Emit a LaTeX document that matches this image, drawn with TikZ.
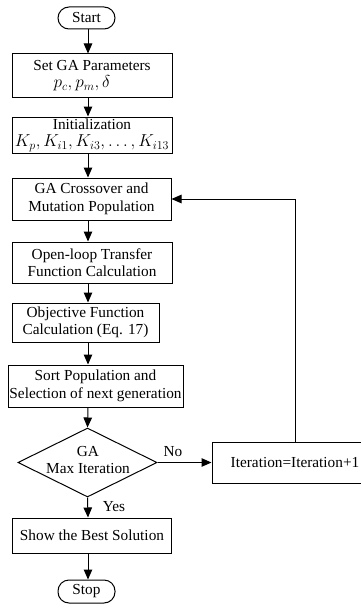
\documentclass[tikz,border=0pt]{standalone}
\usepackage{fontspec}
\setmainfont{Liberation Serif}
\usetikzlibrary{arrows.meta,shapes.geometric}
\newcommand{\mathbig}{\fontsize{17}{17.5}\selectfont}
\begin{document}
\begin{tikzpicture}[x=1pt,y=-1pt,
  every node/.style={font=\fontsize{15.3}{17.5}\selectfont, inner sep=0pt, align=center},
  box/.style={draw, line width=1pt, rectangle},
  term/.style={draw, line width=1pt, rectangle, rounded corners=11pt},
  flow/.style={line width=1pt, -{Triangle[length=10pt,width=8.5pt]}},
  lbl/.style={font=\fontsize{15.3}{17.5}\selectfont}]
\useasboundingbox (0,0) rectangle (361,610);
\clip (0,0) rectangle (361,610);
\node[term, minimum width=57pt, minimum height=22pt] (start) at (86.5,18) {Start};
\node[box, minimum width=160pt, minimum height=43pt] (set) at (92,75.5) {Set GA Parameters\\{\mathbig$p_c, p_m, \delta$}\hspace*{20pt}};
\node[box, minimum width=160pt, minimum height=36pt] (init) at (92,135) {Initialization\\{\mathbig$K_p, K_{i1}, K_{i3}, \ldots, K_{i13}$}};
\node[box, minimum width=159pt, minimum height=42pt] (cross) at (91.5,199) {GA Crossover and\\Mutation Population};
\node[box, minimum width=160pt, minimum height=41pt] (open) at (92,262.5) {Open-loop Transfer\\Function Calculation};
\node[box, minimum width=147pt, minimum height=39pt] (obj) at (85.5,322.5) {Objective Function\\Calculation (Eq. 17)};
\node[box, minimum width=175pt, minimum height=42pt] (sort) at (95.5,386) {Sort Population and\\Selection of next generation};
\node[draw, line width=1pt, diamond, minimum width=139pt, minimum height=69pt] (dia) at (87.5,462.5) {};
\node (dialbl) at (88,460) {GA\\Max Iteration};
\node[box, minimum width=166pt, minimum height=41pt] (iter) at (295,463) {Iteration=Iteration+1};
\node[box, minimum width=159pt, minimum height=35pt] (show) at (92,535.5) {Show the Best Solution};
\node[term, minimum width=57pt, minimum height=23pt] (stop) at (86.5,591.5) {Stop};
\coordinate (c1) at (88,0);
\draw[flow] (c1 |- start.south) -- (c1 |- set.north);
\draw[flow] (c1 |- set.south) -- (c1 |- init.north);
\draw[flow] (c1 |- init.south) -- (c1 |- cross.north);
\draw[flow] (c1 |- cross.south) -- (c1 |- open.north);
\draw[flow] (c1 |- open.south) -- (c1 |- obj.north);
\draw[flow] (c1 |- obj.south) -- (c1 |- sort.north);
\draw[flow] (c1 |- sort.south) -- (dia.north);
\draw[flow] (dia.south) -- (c1 |- show.north);
\draw[flow] (c1 |- show.south) -- (c1 |- stop.north);
\draw[flow] (dia.east) -- (iter.west |- dia.east);
\draw[flow] (iter.north) -- (iter.north |- cross.east) -- (cross.east);
\node[lbl] (nolbl) at (173,452) {No};
\node[lbl] (yeslbl) at (114,507) {Yes};
\end{tikzpicture}
\end{document}
